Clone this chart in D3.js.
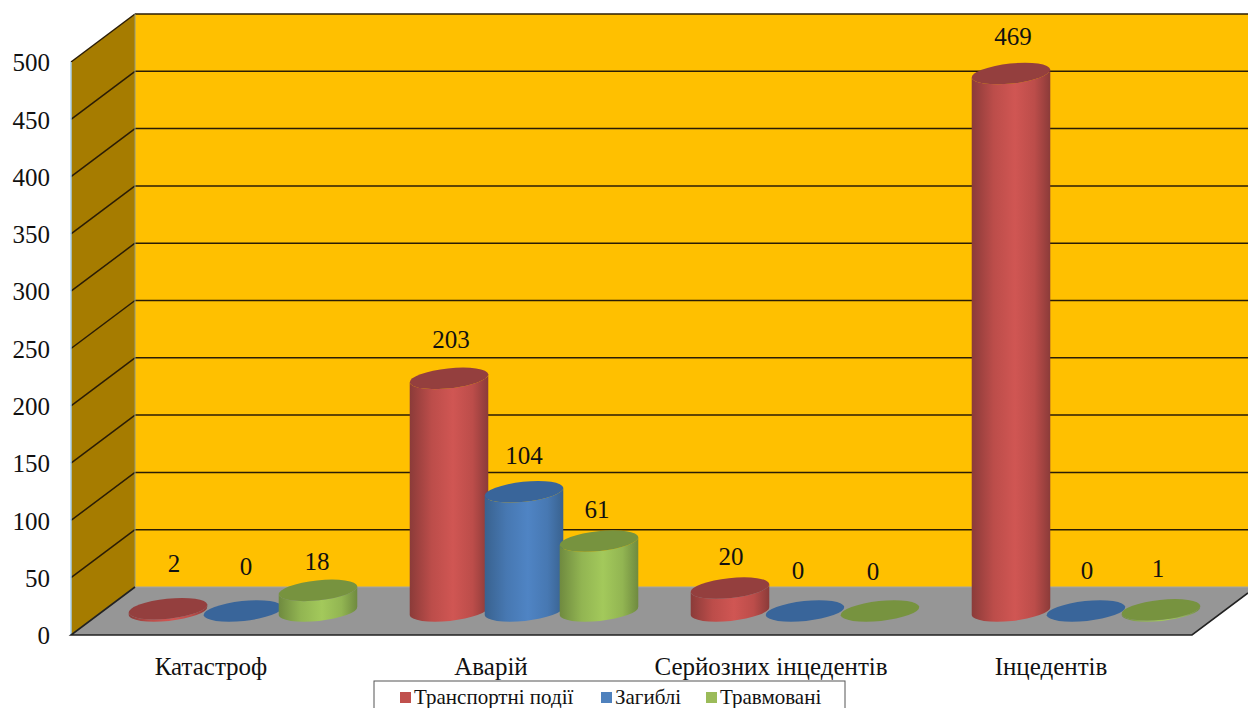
<!DOCTYPE html>
<html>
<head>
<meta charset="utf-8">
<title>Транспортні події</title>
<script src="https://cdn.jsdelivr.net/npm/d3@7"></script>
<style>
    html, body { margin: 0; padding: 0; background: #fff; overflow: hidden; }
    text { font-family: "Liberation Serif", "Times New Roman", serif; fill: #111; }
</style>
</head>
<body>
<div id="chart"></div>
<script>
// Chart data
const categories = ['Катастроф', 'Аварій', 'Серйозних інцедентів', 'Інцедентів'];
const seriesNames = ['Транспортні події', 'Загиблі', 'Травмовані'];
const transportEvents = [2, 203, 20, 469];
const deaths = [0, 104, 0, 0];
const injured = [18, 61, 0, 1];
const yTicks = [0, 50, 100, 150, 200, 250, 300, 350, 400, 450, 500];

// Layout
const width = 1248, height = 708;
const depth = { x: 64, y: -48 };
const cyl = { rx: 39.5, ry: 10, angle: -6 };

// Colours per series: dark edge, soft shoulder, light centre, top face
const colors = [
    { edge: '#8b3b39', soft: '#bc4d4a', mid: '#d05653', top: '#943f3e', swatch: '#c0504d' },
    { edge: '#39628f', soft: '#4778b2', mid: '#4f84c4', top: '#39659a', swatch: '#4f81bd' },
    { edge: '#6f8a3f', soft: '#92b552', mid: '#a3c95b', top: '#77933f', swatch: '#9bbb59' }
];

// Label nudges from the top of each cylinder, [dx, dy] per category and series
const labelNudges = [
    [[6, -45], [3, -45], [-1, -29]],
    [[2, -39], [0, -37], [-2, -32]],
    [[1, -32], [-7, -41], [-7, -40]],
    [[2, -37], [1, -41], [-3, -42]]
];

const svg = d3.select('#chart').append('svg')
    .attr('width', width)
    .attr('height', height);

// Scales
const yBack = d3.scaleLinear().domain([0, 500]).range([587, 14]);
const yFront = d3.scaleLinear().domain([0, 500]).range([635, 62]);
const yBar = d3.scaleLinear().domain([0, 500]).range([611, 38]);
const xCategory = d3.scaleBand().domain(categories).range([102.5, 1226.5]);
const xSeries = d3.scalePoint().domain(seriesNames).range([-75, 75]);
const xCategoryLabel = d3.scalePoint().domain(categories).range([211, 1051]);

const x0 = 71;
const xRight = 1192;

// Gradients for the cylinder sides
const defs = svg.append('defs');
colors.forEach((c, i) => {
    const grad = defs.append('linearGradient').attr('id', 'side' + i);
    grad.append('stop').attr('offset', '0%').attr('stop-color', c.edge);
    grad.append('stop').attr('offset', '28%').attr('stop-color', c.soft);
    grad.append('stop').attr('offset', '55%').attr('stop-color', c.mid);
    grad.append('stop').attr('offset', '80%').attr('stop-color', c.soft);
    grad.append('stop').attr('offset', '100%').attr('stop-color', c.edge);
});

// Back wall
svg.append('rect')
    .attr('x', x0 + depth.x)
    .attr('y', yBack(500))
    .attr('width', width - x0 - depth.x)
    .attr('height', yBack(0) - yBack(500))
    .attr('fill', '#ffc000');

// Left wall
svg.append('path')
    .attr('d', d3.line()([
        [x0, yFront(0)],
        [x0, yFront(500)],
        [x0 + depth.x, yBack(500)],
        [x0 + depth.x, yBack(0)]
    ]) + 'Z')
    .attr('fill', '#a67c00');

// Floor
svg.append('path')
    .attr('d', d3.line()([
        [x0, yFront(0)],
        [xRight, yFront(0)],
        [width, yFront(0) - 42],
        [width, yBack(0)],
        [x0 + depth.x, yBack(0)]
    ]) + 'Z')
    .attr('fill', '#969696');

// Grid lines on the back and left walls
yTicks.filter(d => d > 0).forEach(d => {
    svg.append('line')
        .attr('x1', x0 + depth.x).attr('x2', width)
        .attr('y1', yBack(d)).attr('y2', yBack(d))
        .attr('stroke', '#2a1c05').attr('stroke-width', 1.5);
    svg.append('line')
        .attr('x1', x0).attr('x2', x0 + depth.x)
        .attr('y1', yFront(d)).attr('y2', yBack(d))
        .attr('stroke', '#2a1c05').attr('stroke-width', 1.5);
});

// Wall edges
svg.append('line')
    .attr('x1', x0).attr('x2', x0)
    .attr('y1', yFront(0)).attr('y2', yFront(500))
    .attr('stroke', '#a9d0ee').attr('stroke-width', 1.5);
svg.append('line')
    .attr('x1', x0 + depth.x).attr('x2', x0 + depth.x)
    .attr('y1', yBack(0)).attr('y2', yBack(500))
    .attr('stroke', '#8f9a8a').attr('stroke-width', 1);
svg.append('line')
    .attr('x1', x0 + depth.x).attr('x2', width)
    .attr('y1', yBack(0)).attr('y2', yBack(0))
    .attr('stroke', '#a4a4a4').attr('stroke-width', 1);

// Floor edges
svg.append('path')
    .attr('d', d3.line()([
        [x0 + depth.x, yBack(0)],
        [x0, yFront(0)],
        [xRight, yFront(0)],
        [width, yFront(0) - 42]
    ]))
    .attr('fill', 'none')
    .attr('stroke', '#222')
    .attr('stroke-width', 1.6);

// Y axis labels
svg.append('g').selectAll('text')
    .data(yTicks)
    .enter().append('text')
    .attr('x', 50)
    .attr('y', d => yFront(d) + 0.5)
    .attr('dy', '.35em')
    .attr('text-anchor', 'end')
    .attr('font-size', 25)
    .text(d => d);

// Category labels
svg.append('g').selectAll('text')
    .data(categories)
    .enter().append('text')
    .attr('x', d => xCategoryLabel(d))
    .attr('y', 674.5)
    .attr('text-anchor', 'middle')
    .attr('font-size', 25)
    .text(d => d);

// Offset of the major axis ends of a tilted ellipse
const rad = cyl.angle * Math.PI / 180;
const ex = cyl.rx * Math.cos(rad);
const ey = cyl.rx * Math.sin(rad);

// Side of one cylinder, from base centre to top centre
function sidePath(cx, yBase, yTop) {
    const radii = `A${cyl.rx},${cyl.ry} ${cyl.angle}`;
    return `M${cx - ex},${yTop - ey}` +
        `L${cx - ex},${yBase - ey}` +
        `${radii} 0 0 ${cx + ex},${yBase + ey}` +
        `L${cx + ex},${yTop + ey}` +
        `${radii} 0 1 ${cx - ex},${yTop - ey}Z`;
}

// Cylinders
const seriesValues = [transportEvents, deaths, injured];
categories.forEach((cat, c) => {
    const center = xCategory(cat) + xCategory.bandwidth() / 2;
    seriesNames.forEach((name, s) => {
        const value = seriesValues[s][c];
        const cx = center + xSeries(name);
        const g = svg.append('g');
        if (value > 0) {
            g.append('path')
                .attr('d', sidePath(cx, yBar(0), yBar(value)))
                .attr('fill', `url(#side${s})`);
        }
        g.append('ellipse')
            .attr('rx', cyl.rx)
            .attr('ry', cyl.ry)
            .attr('transform', `translate(${cx},${yBar(value)}) rotate(${cyl.angle})`)
            .attr('fill', colors[s].top);
    });
});

// Data labels drawn above everything
categories.forEach((cat, c) => {
    const center = xCategory(cat) + xCategory.bandwidth() / 2;
    seriesNames.forEach((name, s) => {
        const value = seriesValues[s][c];
        const nudge = labelNudges[c][s];
        svg.append('text')
            .attr('x', center + xSeries(name) + nudge[0])
            .attr('y', yBar(value) + nudge[1])
            .attr('dy', '.35em')
            .attr('text-anchor', 'middle')
            .attr('font-size', 25)
            .text(value);
    });
});

// Legend, cut off by the bottom of the picture
const legend = svg.append('g');
legend.append('rect')
    .attr('x', 374)
    .attr('y', 681)
    .attr('width', 471)
    .attr('height', 40)
    .attr('fill', '#fff')
    .attr('stroke', '#555')
    .attr('stroke-width', 1);

const legendX = d3.scaleOrdinal().domain(seriesNames).range([400, 601, 706]);
seriesNames.forEach((name, i) => {
    legend.append('rect')
        .attr('x', legendX(name))
        .attr('y', 692)
        .attr('width', 11)
        .attr('height', 11)
        .attr('fill', colors[i].swatch);
    legend.append('text')
        .attr('x', legendX(name) + 14)
        .attr('y', 704)
        .attr('font-size', 21)
        .text(name);
});
</script>
</body>
</html>
